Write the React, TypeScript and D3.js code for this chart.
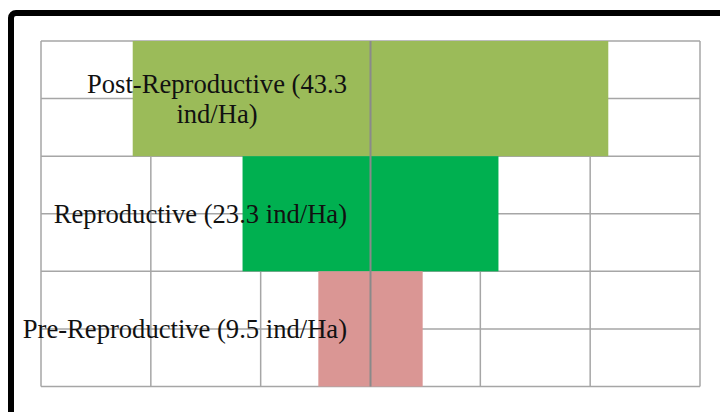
import React, { useEffect, useRef } from "react";
import * as d3 from "d3";

const categories = ["Post-Reproductive", "Reproductive", "Pre-Reproductive"];
const values = [43.3, 23.3, 9.5];
const labelLines = [
  ["Post-Reproductive (43.3", "ind/Ha)"],
  ["Reproductive (23.3 ind/Ha)"],
  ["Pre-Reproductive (9.5 ind/Ha)"],
];
const colors = ["#9BBB59", "#00B050", "#DA9694"];
const xTicks = [-30, -20, -10, 0, 10, 20, 30];

export default function App() {
  const ref = useRef<SVGSVGElement>(null);

  useEffect(() => {
    const svg = d3.select(ref.current);
    svg.selectAll("*").remove();
    const W = 720, H = 412;
    const left = 41, right = 700, top = 41, bottom = 386.5;

    svg.append("rect").attr("width", W).attr("height", H).attr("fill", "#fff");

    const x = d3.scaleLinear().domain([-30, 30]).range([left, right]);
    const y = d3.scaleBand().domain(categories).range([top, bottom]).padding(0);

    const grid = svg.append("g");
    xTicks.filter((t) => t !== 0).forEach((t) => {
      grid.append("line")
        .attr("x1", x(t)).attr("x2", x(t))
        .attr("y1", top).attr("y2", bottom)
        .attr("stroke", "#a6a6a6").attr("stroke-width", 1.5);
    });
    const hs: number[] = [top];
    categories.forEach((c) => {
      hs.push(y(c)! + y.bandwidth() / 2);
      hs.push(y(c)! + y.bandwidth());
    });
    hs.forEach((h) => {
      grid.append("line")
        .attr("x1", left).attr("x2", right)
        .attr("y1", h).attr("y2", h)
        .attr("stroke", "#a6a6a6").attr("stroke-width", 1.5);
    });

    svg.append("g").selectAll("rect")
      .data(categories)
      .join("rect")
      .attr("x", (_, i) => x(-values[i] / 2))
      .attr("width", (_, i) => x(values[i] / 2) - x(-values[i] / 2))
      .attr("y", (c) => y(c)!)
      .attr("height", y.bandwidth())
      .attr("fill", (_, i) => colors[i]);

    svg.append("line")
      .attr("x1", x(0)).attr("x2", x(0))
      .attr("y1", top).attr("y2", bottom)
      .attr("stroke", "#8a8a8a").attr("stroke-width", 2);

    const fs = 26.6;
    const lh = 30;
    const labelRight = 347;
    categories.forEach((c, i) => {
      const lines = labelLines[i];
      const cy = y(c)! + y.bandwidth() / 2;
      const g = svg.append("g");
      const texts = lines.map((l, j) =>
        g.append("text")
          .attr("font-family", "'Liberation Serif', 'Times New Roman', serif")
          .attr("font-size", fs)
          .attr("fill", "#111")
          .attr("text-anchor", "middle")
          .attr("y", cy + (j - (lines.length - 1) / 2) * lh + 9.5)
          .text(l)
      );
      const maxW = d3.max(texts, (t) => (t.node() as SVGTextElement).getComputedTextLength()) || 0;
      texts.forEach((t) => t.attr("x", labelRight - maxW / 2));
    });

    svg.append("rect")
      .attr("x", 11).attr("y", 13)
      .attr("width", W + 20).attr("height", H + 20)
      .attr("rx", 5)
      .attr("fill", "none")
      .attr("stroke", "#000")
      .attr("stroke-width", 6);
  }, []);

  return (
    <svg
      ref={ref}
      width={720}
      height={412}
      style={{ position: "absolute", left: 0, top: 0, display: "block" }}
    />
  );
}
